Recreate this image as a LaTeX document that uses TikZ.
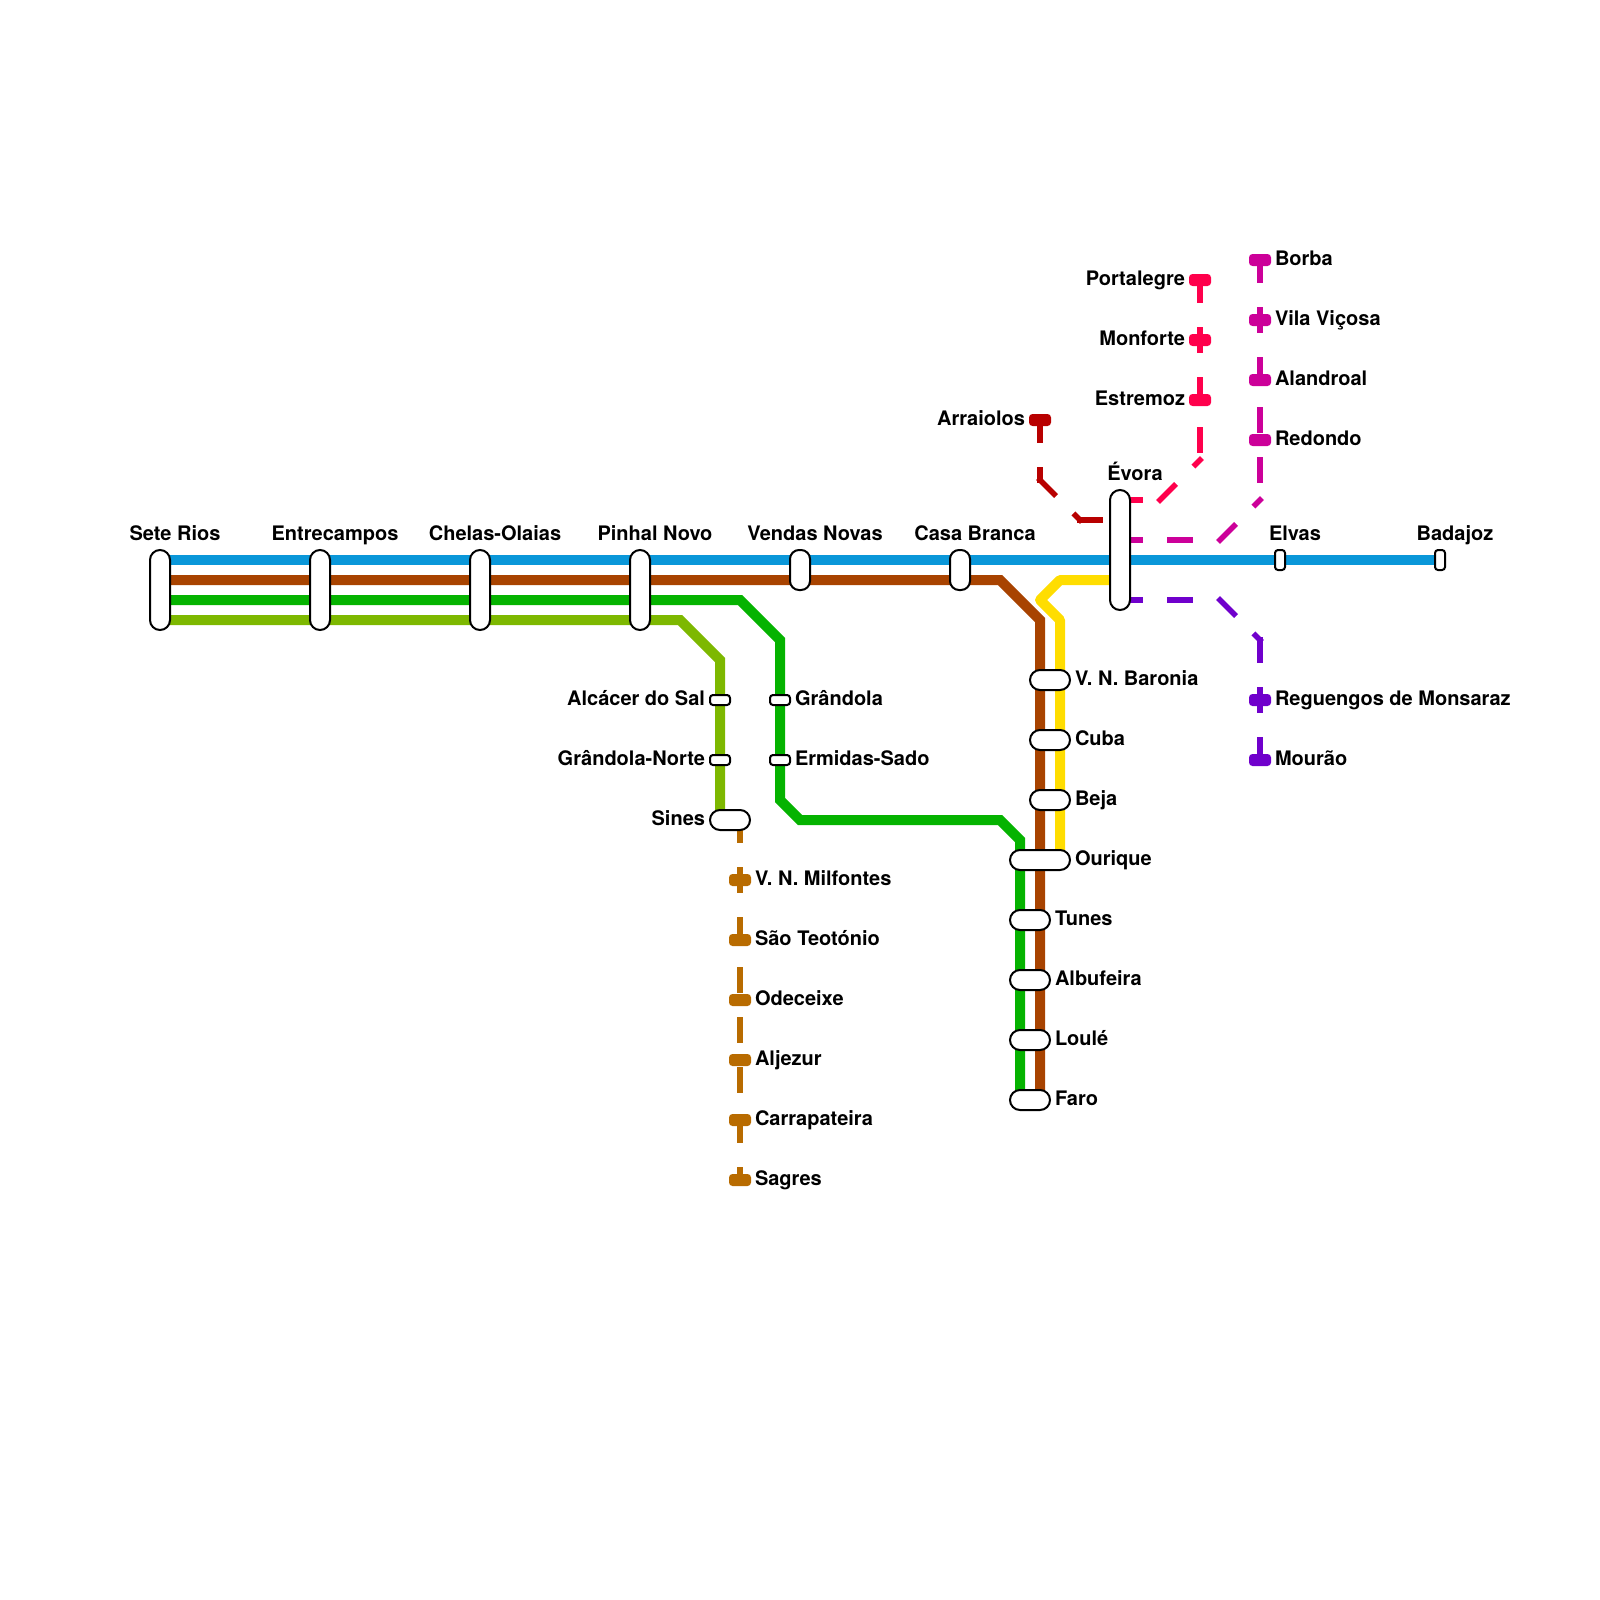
\documentclass[tikz,border=0pt]{standalone}
\usepackage{fontspec}
\setmainfont{TeX Gyre Heros}
\pgfdeclarelayer{lines}
\pgfsetlayers{lines,main}
\definecolor{cblue}{HTML}{0A97D9}
\definecolor{cbrown}{HTML}{A84300}
\definecolor{cgreen}{HTML}{05B300}
\definecolor{clime}{HTML}{7DB800}
\definecolor{cyellow}{HTML}{FFDD00}
\definecolor{cred}{HTML}{FF004C}
\definecolor{cdark}{HTML}{B80000}
\definecolor{cmag}{HTML}{CC0099}
\definecolor{cpur}{HTML}{7000CC}
\definecolor{corg}{HTML}{B86B00}
\tikzset{
  mainline/.style={line width=10pt,line join=miter},
  dashline/.style={line width=5.5pt,line cap=rect,dash pattern=on 20pt off 30pt},
  stn/.style={draw=black,line width=2pt,fill=white,inner sep=0pt,outer sep=0pt,rectangle},
  tall/.style={stn,minimum width=20pt,minimum height=80pt,rounded corners=10pt},
  midt/.style={stn,minimum width=20pt,minimum height=40pt,rounded corners=9pt},
  wide/.style={stn,minimum width=40pt,minimum height=20pt,rounded corners=10pt},
  tiny/.style={stn,minimum width=20pt,minimum height=10pt,rounded corners=3pt},
  tinyv/.style={stn,minimum width=10pt,minimum height=20pt,rounded corners=3pt},
  term/.style={fill=#1,inner sep=0pt,outer sep=0pt,rectangle,minimum width=22pt,minimum height=12pt,rounded corners=3.5pt},
  lab/.style={inner sep=0pt,outer sep=0pt,font=\fontsize{20}{24}\selectfont\bfseries,text=black},
  labc/.style={lab,anchor=base},
  labr/.style={lab,anchor=base west},
  labl/.style={lab,anchor=base east},
}
\begin{document}
\begin{tikzpicture}[x=1pt,y=-1pt]
\useasboundingbox (0,0) rectangle (1600,1600);
% stations on the main line
\node[tall] (sete) at (160,590) {};
\node[tall] (entre) at (320,590) {};
\node[tall] (chelas) at (480,590) {};
\node[tall] (pinhal) at (640,590) {};
\node[midt] (vendas) at (800,570) {};
\node[midt] (casa) at (960,570) {};
\node[stn,minimum width=20pt,minimum height=120pt,rounded corners=10pt] (evora) at (1120,550) {};
\node[tinyv] (elvas) at (1280,560) {};
\node[tinyv] (badajoz) at (1440,560) {};
% south-west branches
\node[tiny] (alcacer) at (720,700) {};
\node[tiny] (gnorte) at (720,760) {};
\node[wide] (sines) at (730,820) {};
\node[tiny] (grandola) at (780,700) {};
\node[tiny] (ermidas) at (780,760) {};
% south branch
\node[wide] (baronia) at (1050,680) {};
\node[wide] (cuba) at (1050,740) {};
\node[wide] (beja) at (1050,800) {};
\node[stn,minimum width=60pt,minimum height=20pt,rounded corners=10pt] (ourique) at (1040,860) {};
\node[wide] (tunes) at (1030,920) {};
\node[wide] (albufeira) at (1030,980) {};
\node[wide] (loule) at (1030,1040) {};
\node[wide] (faro) at (1030,1100) {};
% terminal blocks
\node[term=corg] (milfontes) at (740,880) {};
\node[term=corg] (teotonio) at (740,940) {};
\node[term=corg] (odeceixe) at (740,1000) {};
\node[term=corg] (aljezur) at (740,1060) {};
\node[term=corg] (carrapateira) at (740,1120) {};
\node[term=corg] (sagres) at (740,1180) {};
\node[term=cdark] (arraiolos) at (1040,420) {};
\node[term=cred] (portalegre) at (1200,280) {};
\node[term=cred] (monforte) at (1200,340) {};
\node[term=cred] (estremoz) at (1200,400) {};
\node[term=cmag] (borba) at (1260,260) {};
\node[term=cmag] (vila) at (1260,320) {};
\node[term=cmag] (alandroal) at (1260,380) {};
\node[term=cmag] (redondo) at (1260,440) {};
\node[term=cpur] (reguengos) at (1260,700) {};
\node[term=cpur] (mourao) at (1260,760) {};
% bend coordinates
\coordinate (yB) at (0,560);
\coordinate (yBr) at (0,580);
\coordinate (yG) at (0,600);
\coordinate (yL) at (0,620);
\coordinate (b1) at (1000,580);
\coordinate (b2) at (1040,620);
\coordinate (b3) at (1040,1100);
\coordinate (g1) at (740,600);
\coordinate (g2) at (780,640);
\coordinate (g3) at (780,800);
\coordinate (g4) at (800,820);
\coordinate (g5) at (1000,820);
\coordinate (g6) at (1020,840);
\coordinate (g7) at (1020,1100);
\coordinate (l1) at (680,620);
\coordinate (l2) at (720,660);
\coordinate (l3) at (720,820);
\coordinate (y0) at (1120,580);
\coordinate (y1) at (1060,580);
\coordinate (y2) at (1040,600);
\coordinate (y3) at (1060,620);
\coordinate (y4) at (1060,860);
\coordinate (evR) at (1120,500);
\coordinate (evA) at (1120,520);
\coordinate (evM) at (1120,540);
\coordinate (evP) at (1120,600);
\coordinate (r1) at (1160,500);
\coordinate (r2) at (1200,460);
\coordinate (a1) at (1040,480);
\coordinate (a2) at (1080,520);
\coordinate (m0) at (1215,540);
\coordinate (m1) at (1220,540);
\coordinate (m2) at (1260,500);
\coordinate (p0) at (1215,600);
\coordinate (p1) at (1220,600);
\coordinate (p2) at (1260,640);
\coordinate (o0) at (740,820);
% connectors
\begin{pgfonlayer}{lines}
\draw[mainline,cblue] (sete.center |- yB) -- (badajoz.center);
\draw[mainline,cbrown] (sete.center |- yBr) -- (b1) -- (b2) -- (b3);
\draw[mainline,cgreen] (sete.center |- yG) -- (g1) -- (g2) -- (g3) -- (g4) -- (g5) -- (g6) -- (g7);
\draw[mainline,clime] (sete.center |- yL) -- (l1) -- (l2) -- (l3);
\draw[mainline,cyellow,line join=round] (y0) -- (y1) -- (y2) -- (y3) -- (y4);
\draw[dashline,corg] (o0) -- (sagres.center);
\draw[dashline,cdark] (arraiolos.center) -- (a1);
\draw[dashline,cdark] (a1) -- (a2);
\draw[dashline,cdark] (a2) -- (evA);
\draw[dashline,cred] (portalegre.center) -- (r2);
\draw[dashline,cred] (r1) -- (r2);
\draw[dashline,cred] (evR) -- (r1);
\draw[dashline,cmag] (borba.center) -- (m2);
\draw[dashline,cmag] (m1) -- (m2);
\draw[dashline,cmag] (evM) -- (m0);
\draw[dashline,cpur] (evP) -- (p0);
\draw[dashline,cpur] (p1) -- (p2);
\draw[dashline,cpur] (p2) -- (mourao.center);
\end{pgfonlayer}
% labels above
\node[labc] (tsete) at (175,540) {Sete Rios};
\node[labc] (tentre) at (335,540) {Entrecampos};
\node[labc] (tchelas) at (495,540) {Chelas-Olaias};
\node[labc] (tpinhal) at (655,540) {Pinhal Novo};
\node[labc] (tvendas) at (815,540) {Vendas Novas};
\node[labc] (tcasa) at (975,540) {Casa Branca};
\node[labc] (tevora) at (1135,480) {Évora};
\node[labc] (telvas) at (1295,540) {Elvas};
\node[labc] (tbadajoz) at (1455,540) {Badajoz};
% labels left
\node[labl] (talcacer) at (705,705) {Alcácer do Sal};
\node[labl] (tgnorte) at (705,765) {Grândola-Norte};
\node[labl] (tsines) at (705,825) {Sines};
\node[labl] (tarraiolos) at (1025,425) {Arraiolos};
\node[labl] (tportalegre) at (1185,285) {Portalegre};
\node[labl] (tmonforte) at (1185,345) {Monforte};
\node[labl] (testremoz) at (1185,405) {Estremoz};
% labels right
\node[labr] (tgrandola) at (795,705) {Grândola};
\node[labr] (termidas) at (795,765) {Ermidas-Sado};
\node[labr] (tmilfontes) at (755,885) {V. N. Milfontes};
\node[labr] (tteotonio) at (755,945) {São Teotónio};
\node[labr] (todeceixe) at (755,1005) {Odeceixe};
\node[labr] (taljezur) at (755,1065) {Aljezur};
\node[labr] (tcarrapateira) at (755,1125) {Carrapateira};
\node[labr] (tsagres) at (755,1185) {Sagres};
\node[labr] (tbaronia) at (1075,685) {V. N. Baronia};
\node[labr] (tcuba) at (1075,745) {Cuba};
\node[labr] (tbeja) at (1075,805) {Beja};
\node[labr] (tourique) at (1075,865) {Ourique};
\node[labr] (ttunes) at (1055,925) {Tunes};
\node[labr] (talbufeira) at (1055,985) {Albufeira};
\node[labr] (tloule) at (1055,1045) {Loulé};
\node[labr] (tfaro) at (1055,1105) {Faro};
\node[labr] (tborba) at (1275,265) {Borba};
\node[labr] (tvila) at (1275,325) {Vila Viçosa};
\node[labr] (talandroal) at (1275,385) {Alandroal};
\node[labr] (tredondo) at (1275,445) {Redondo};
\node[labr] (treguengos) at (1275,705) {Reguengos de Monsaraz};
\node[labr] (tmourao) at (1275,765) {Mourão};
\end{tikzpicture}
\end{document}
